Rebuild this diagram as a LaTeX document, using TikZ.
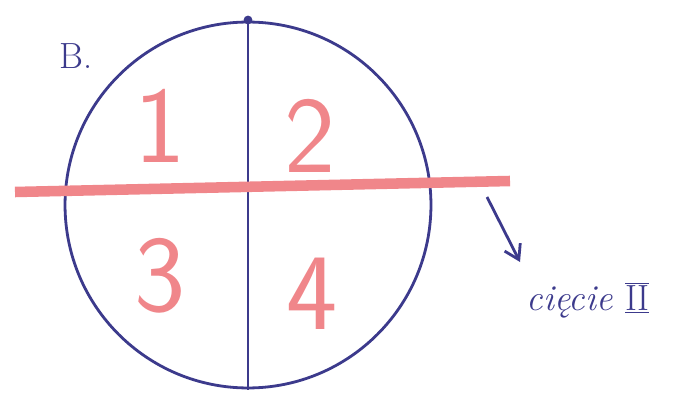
\documentclass[tikz,border=0pt]{standalone}
\usepackage{fontspec}
\usetikzlibrary{arrows.meta,positioning,calc}
\definecolor{ink}{HTML}{3C3A8C}
\definecolor{marker}{HTML}{F0868A}
\tikzset{
  pen/.style={draw=ink, line width=1.6pt},
  quarter/.style={text=marker, font=\sffamily\fontsize{62}{62}\selectfont, inner sep=0pt},
}
\begin{document}
\begin{tikzpicture}[x=0.02cm, y=-0.02cm]
\useasboundingbox (0,0) rectangle (686,405);
% the circle
\node[pen, circle, minimum size=7.32cm, inner sep=0pt] (disc) at (248,205) {};
% vertical cut
\coordinate (top) at (248,20);
\coordinate (bottom) at (248,390);
\draw[pen] (top) -- (bottom);
\fill[ink] (top) circle (2.5pt);
% horizontal red cut
\coordinate (cutL) at (15,192);
\coordinate (cutR) at (510,181);
\draw[marker, line width=6pt] (cutL) -- (cutR);
% quarter numbers
\node[quarter] (q1) at (160,126) {1};
\node[quarter] (q2) at (310,136) {2};
\node[quarter] (q3) at (160,276) {3};
\node[quarter] (q4) at (312,294) {4};
% letter
\node[text=ink, font=\huge] (lab) at (76,56) {B.};
% cut label
\node[text=ink, font=\itshape\huge] (cut) at (588,300) {cięcie $\overline{\underline{\mathrm{II}}}$};
\coordinate (from) at (487,197);
\coordinate (tip) at (520,262);
\draw[pen, -{Straight Barb[length=8pt, width=10pt]}] (from) -- (tip);
\end{tikzpicture}
\end{document}
